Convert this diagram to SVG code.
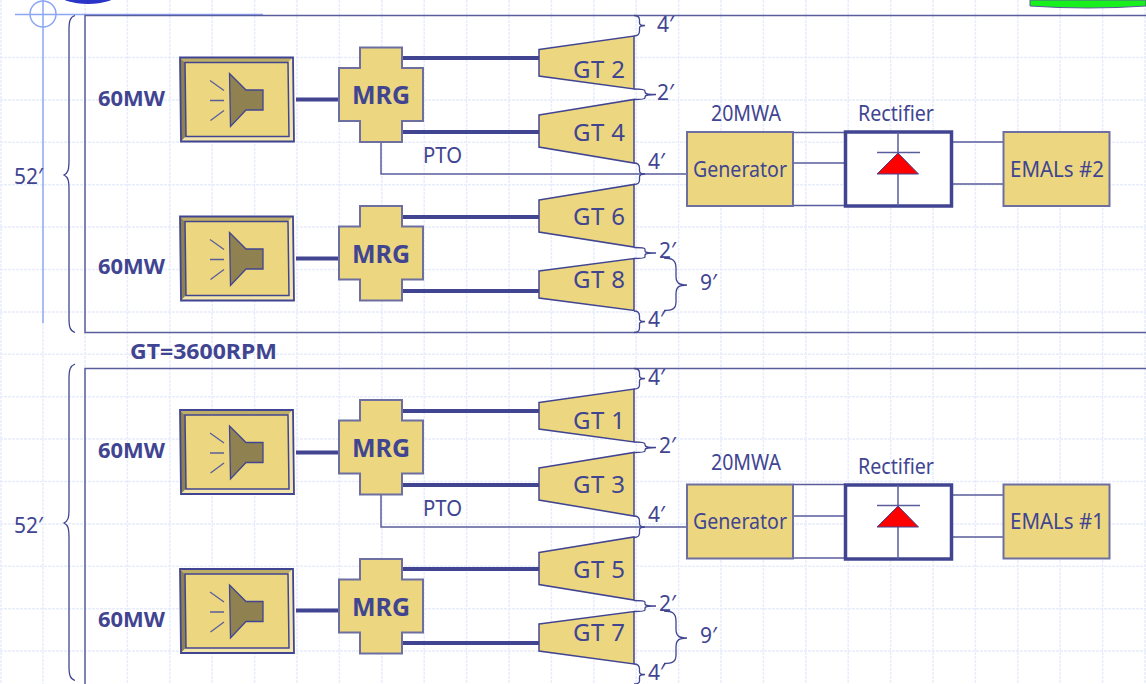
<svg xmlns="http://www.w3.org/2000/svg" width="1146" height="684" viewBox="0 0 1146 684">
<style>
text{font-family:"Noto Sans","Open Sans",sans-serif;fill:#414591}
.t{font-size:21px}
.g{font-size:24px;text-anchor:middle}
.m{text-anchor:middle}
.b{font-weight:bold;font-size:21px}
.mrg{font-weight:bold;font-size:25px;text-anchor:middle}
.box{fill:#ecd780;stroke:#6c6f9f;stroke-width:2}
.gt{fill:#ecd780;stroke:#414591;stroke-width:1.5}
.thin{fill:none;stroke:#5a5d9c;stroke-width:1.5}
.thick{fill:none;stroke:#414591;stroke-width:4}
.brace{fill:none;stroke:#414591;stroke-width:1.3}
.grid{stroke:#e8edfc;stroke-width:1.5;stroke-dasharray:3 1}
</style>
<defs>
<g id="motor">
<polygon points="0,0 113,0 108,5 5,5" fill="#bfae66"/>
<polygon points="0,0 5,5 6,79 1,84" fill="#8f8250"/>
<polygon points="113,0 114,84 109,79 108,5" fill="#f3e6ad"/>
<polygon points="1,84 114,84 109,79 6,79" fill="#f3e6ad"/>
<polygon points="5,5 108,5 109,79 6,79" fill="#ecd780" stroke="#414591" stroke-width="1.500"/>
<polygon points="0,0 113,0 114,84 1,84" fill="none" stroke="#414591" stroke-width="1.800"/>
<polygon points="49.500,16 66,32.500 83,32.500 83,52.500 66,52.500 50.500,69" fill="#8f8250" stroke="#414591" stroke-width="1.300"/>
<path d="M30,23L44,33M30,43H44M30.500,63L44,53" fill="none" stroke="#5a5d9c" stroke-width="1.300"/>
</g>
<polygon id="cross" points="21,0 63,0 63,20.500 84,20.500 84,73.500 63,73.500 63,94.500 21,94.500 21,73.500 0,73.500 0,20.500 21,20.500"/>
<g id="diode">
<path class="thin" d="M898,132V206M877,152.500H920"/>
<polygon points="877,174 898,153 918.500,174" fill="#ff0000" stroke="#414591" stroke-width="1"/>
</g>
</defs>
<rect width="1146" height="684" fill="#ffffff"/>
<g id="background-grid">
<path class="grid" d="M1,0V684M85,0V684M127.400,0V684M169.800,0V684M212.200,0V684M254.600,0V684M297,0V684M339.400,0V684M381.800,0V684M424.200,0V684M466.600,0V684M509,0V684M551.400,0V684M593.800,0V684M636.200,0V684M678.600,0V684M721,0V684M763.400,0V684M805.800,0V684M848.200,0V684M890.600,0V684M933,0V684M975.400,0V684M1017.800,0V684M1060.200,0V684M1102.600,0V684M1145,0V684"/>
<path class="grid" d="M0,57.500H1146M0,99.900H1146M0,142.300H1146M0,184.700H1146M0,227.100H1146M0,269.500H1146M0,311.900H1146M0,354.300H1146M0,396.700H1146M0,439.100H1146M0,481.500H1146M0,523.900H1146M0,566.300H1146M0,608.700H1146M0,651.100H1146"/>
<path class="grid" d="M43,323V684"/>
</g>
<g id="decor">
<ellipse cx="88" cy="-5" rx="28" ry="9" fill="#2b34c9"/>
<path d="M1030,0V6Q1088,10 1146,6V0Z" fill="#17f01d" stroke="#5a5d9c"/>
<circle cx="43" cy="14" r="13" fill="none" stroke="#8ca6f5" stroke-width="1.500"/>
<path d="M15,14.500H263M43,0V323" fill="none" stroke="#8ca6f5" stroke-width="1.500"/>
</g>
<g id="connectors">
<path class="thin" d="M1146,15.500H85V332.500H1146M1146,368.500H85V684"/>
<path class="thin" d="M381,142V174H687M381,495V527H687"/>
<path class="thin" d="M793,132.500H845M793,163H845M793,205.500H845M952,142H1003M952,184H1003"/>
<path class="thin" d="M793,484.500H845M793,516H845M793,558H845M952,495H1003M952,537H1003"/>
<path class="thick" d="M296,99.500H339M402,58H540M402,132H540M296,258.500H339M402,217H540M402,291H540M296,452.500H339M402,411H540M402,485H540M296,610.500H339M402,569H540M402,643H540"/>
<g id="braces" class="brace">
<path d="M75,15.500C70,17 69,21 69,30V160C69,170 68,173 64,175C68,177 69,180 69,190V318C69,327 70,331 75,332.500"/>
<path d="M75,364C70,366 69,370 69,379V509C69,518 68,521 64,523C68,525 69,528 69,538V666C69,675 70,679 75,680.500"/>
<path d="M634,15.500C638,15.500 639.500,17 639.500,20V23C639.500,25 641,25.500 645,25.500C641,25.500 639.500,26 639.500,28V31C639.500,34 638,36 634,36"/>
<path d="M634,89C641,89 645,89.500 645,91V92C645,94 647,94.500 656,94.500C647,94.500 645,95 645,97V98C645,99 641,99.500 634,99.500"/>
<path d="M634,163C638,163 639.500,165 639.500,168V171C639.500,173 641,174 645,174C641,174 639.500,175 639.500,177V180C639.500,183 638,184.500 634,184.500"/>
<path d="M634,247.500C641,247.500 645,248 645,249V251C645,252.500 647,253 656,253C647,253 645,253.500 645,255V257C645,258 641,258.500 634,258.500"/>
<path d="M664,258C672,258 676,260 676,268V276C676,283 679,285 687,285C679,285 676,287 676,294V302C676,309 672,310.500 664,310.500"/>
<path d="M634,311C638,311 639.500,313 639.500,316V319C639.500,321 641,321.500 645,321.500C641,321.500 639.500,322 639.500,324V328C639.500,331 638,332.500 634,332.500"/>
<path d="M634,368.500C638,368.500 639.500,370 639.500,373V376C639.500,378 641,378.500 645,378.500C641,378.500 639.500,379 639.500,381V385C639.500,388 638,389 634,389"/>
<path d="M634,442C641,442 645,442.500 645,444V445C645,447 647,447.500 656,447.500C647,447.500 645,448 645,450V451C645,452 641,452.500 634,452.500"/>
<path d="M634,516C638,516 639.500,518 639.500,521V524C639.500,526 641,527 645,527C641,527 639.500,528 639.500,530V533C639.500,536 638,537.500 634,537.500"/>
<path d="M634,600.500C641,600.500 645,601 645,602V604C645,605.500 647,606 656,606C647,606 645,606.500 645,608V610C645,611 641,611.500 634,611.500"/>
<path d="M664,611C672,611 676,613 676,621V629C676,636 679,638 687,638C679,638 676,640 676,647V655C676,662 672,663.500 664,663.500"/>
<path d="M634,664C638,664 639.500,666 639.500,669V672C639.500,674 641,674.500 645,674.500C641,674.500 639.500,675 639.500,677V681C639.500,683 638,684 634,684"/>
</g>
</g>
<g id="motor-1"><use href="#motor" x="180" y="57.500"/><text class="b" x="98" y="106" textLength="67" lengthAdjust="spacingAndGlyphs">60MW</text></g>
<g id="motor-2"><use href="#motor" x="180" y="216.500"/><text class="b" x="98" y="274" textLength="67" lengthAdjust="spacingAndGlyphs">60MW</text></g>
<g id="motor-3"><use href="#motor" x="180" y="410"/><text class="b" x="98" y="458" textLength="67" lengthAdjust="spacingAndGlyphs">60MW</text></g>
<g id="motor-4"><use href="#motor" x="180" y="569"/><text class="b" x="98" y="627" textLength="67" lengthAdjust="spacingAndGlyphs">60MW</text></g>
<g id="mrg-1"><use href="#cross" class="box" x="339" y="47.500"/><text class="mrg" x="381" y="104">MRG</text></g>
<g id="mrg-2"><use href="#cross" class="box" x="339" y="206"/><text class="mrg" x="381" y="263">MRG</text></g>
<g id="mrg-3"><use href="#cross" class="box" x="339" y="400"/><text class="mrg" x="381" y="457">MRG</text></g>
<g id="mrg-4"><use href="#cross" class="box" x="339" y="559"/><text class="mrg" x="381" y="616">MRG</text></g>
<g id="gt-2"><polygon class="gt" points="539,49.500 634,36 634,89 539,76"/><text class="g" x="599" y="78" textLength="52" lengthAdjust="spacing">GT 2</text></g>
<g id="gt-4"><polygon class="gt" points="539,115 634,99.500 634,163 539,147"/><text class="g" x="599" y="141" textLength="52" lengthAdjust="spacing">GT 4</text></g>
<g id="gt-6"><polygon class="gt" points="539,200 634,184.500 634,247 539,232"/><text class="g" x="599" y="225" textLength="52" lengthAdjust="spacing">GT 6</text></g>
<g id="gt-8"><polygon class="gt" points="539,271 634,258.500 634,310.500 539,298"/><text class="g" x="599" y="288" textLength="52" lengthAdjust="spacing">GT 8</text></g>
<g id="gt-1"><polygon class="gt" points="539,402.500 634,389 634,442 539,429"/><text class="g" x="599" y="429" textLength="52" lengthAdjust="spacing">GT 1</text></g>
<g id="gt-3"><polygon class="gt" points="539,468 634,452.500 634,516 539,500"/><text class="g" x="599" y="493" textLength="52" lengthAdjust="spacing">GT 3</text></g>
<g id="gt-5"><polygon class="gt" points="539,552.500 634,537 634,600 539,584.500"/><text class="g" x="599" y="578" textLength="52" lengthAdjust="spacing">GT 5</text></g>
<g id="gt-7"><polygon class="gt" points="539,624 634,611.500 634,664 539,651"/><text class="g" x="599" y="641" textLength="52" lengthAdjust="spacing">GT 7</text></g>
<g id="generator-2"><rect class="box" x="687" y="132" width="106" height="74"/><text class="t" x="693" y="177" textLength="94" lengthAdjust="spacingAndGlyphs">Generator</text><text class="t" x="711" y="121" textLength="70" lengthAdjust="spacingAndGlyphs">20MWA</text></g>
<g id="generator-1"><rect class="box" x="687" y="484.500" width="106" height="74"/><text class="t" x="693" y="529" textLength="94" lengthAdjust="spacingAndGlyphs">Generator</text><text class="t" x="711" y="470" textLength="70" lengthAdjust="spacingAndGlyphs">20MWA</text></g>
<g id="rectifier-2"><rect x="845.500" y="132" width="106" height="74" fill="#fff" stroke="#414591" stroke-width="3.500"/><use href="#diode"/><text class="t" x="858" y="121" textLength="76" lengthAdjust="spacingAndGlyphs">Rectifier</text></g>
<g id="rectifier-1"><rect x="845.500" y="485" width="106" height="74" fill="#fff" stroke="#414591" stroke-width="3.500"/><use href="#diode" y="353"/><text class="t" x="858" y="474" textLength="76" lengthAdjust="spacingAndGlyphs">Rectifier</text></g>
<g id="emals-2"><rect class="box" x="1003.500" y="132" width="106" height="74"/><text class="t" x="1010" y="177" textLength="94" lengthAdjust="spacingAndGlyphs">EMALs #2</text></g>
<g id="emals-1"><rect class="box" x="1003.500" y="484.500" width="106" height="74"/><text class="t" x="1010" y="529" textLength="94" lengthAdjust="spacingAndGlyphs">EMALs #1</text></g>
<g id="labels">
<text class="t" x="14" y="184">52′</text><text class="t" x="14" y="533">52′</text>
<text class="b" x="130" y="359" textLength="147" lengthAdjust="spacingAndGlyphs">GT=3600RPM</text>
<text class="t" x="423" y="163" textLength="39" lengthAdjust="spacingAndGlyphs">PTO</text><text class="t" x="423" y="516" textLength="39" lengthAdjust="spacingAndGlyphs">PTO</text>
<text class="t" x="657" y="32">4′</text><text class="t" x="657" y="100">2′</text><text class="t" x="648" y="169">4′</text><text class="t" x="659" y="258">2′</text><text class="t" x="700" y="290">9′</text><text class="t" x="648" y="327">4′</text>
<text class="t" x="648" y="385">4′</text><text class="t" x="659" y="453">2′</text><text class="t" x="648" y="522">4′</text><text class="t" x="659" y="611">2′</text><text class="t" x="700" y="643">9′</text><text class="t" x="648" y="680">4′</text>
</g>
</svg>
